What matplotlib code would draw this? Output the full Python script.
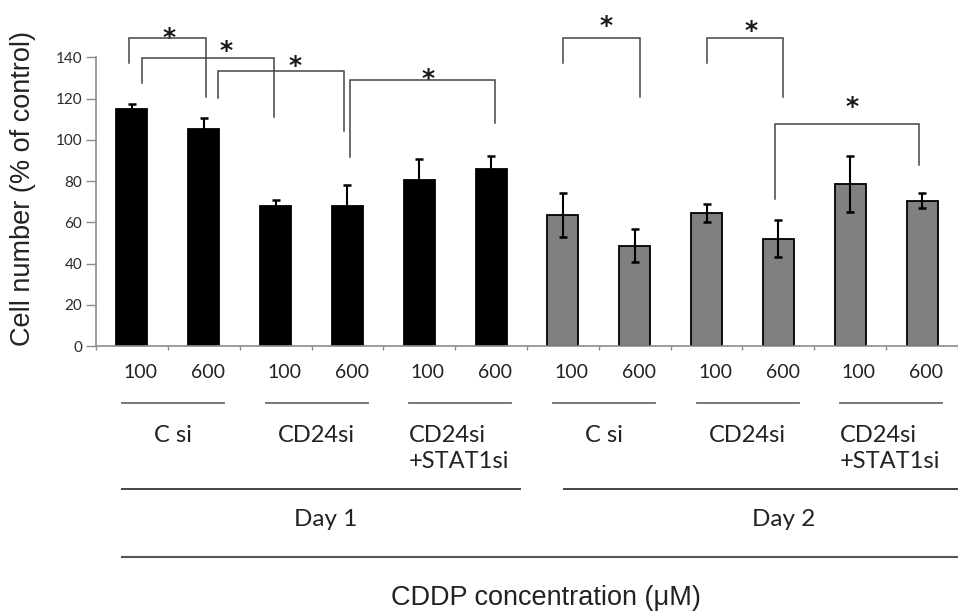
import matplotlib
matplotlib.use("Agg")
import matplotlib.pyplot as plt
import numpy as np
from matplotlib.transforms import blended_transform_factory

# values
MEANS = [115, 105, 68, 68, 80.5, 86, 63.5, 48.5, 64.5, 52, 78.5, 70.5]
ERRS = [2.5, 5.5, 3, 10, 10, 6, 10.5, 8, 4.5, 9, 13.5, 3.5]
DAY_OF_BAR = [1, 1, 1, 1, 1, 1, 2, 2, 2, 2, 2, 2]
DOSES = ["100", "600"]
GROUPS = ["C si", "CD24si", "CD24si\n+STAT1si"]
DAYS = ["Day 1", "Day 2"]
Y_TICKS = [0, 20, 40, 60, 80, 100, 120, 140]
X_TITLE = "CDDP concentration (\u03bcM)"
Y_TITLE = "Cell number (% of control)"

# significance brackets: left x, right x, top, left leg end, right leg end
BR_X0 = [-0.04, 0.14, 1.20, 3.04, 6.00, 8.00, 8.95]
BR_X1 = [1.03, 1.98, 2.95, 5.06, 7.07, 9.07, 10.96]
BR_TOP = [149.2, 139.8, 133.4, 128.9, 149.5, 149.5, 107.8]
BR_LEFT = [137.4, 127.7, 120.4, 91.8, 137.4, 137.4, 71.1]
BR_RIGHT = [120.9, 110.9, 104.3, 108.3, 120.9, 120.9, 87.8]
STAR_X = [0.52, 1.31, 2.27, 4.12, 6.60, 8.62, 10.02]
STAR_Y = [153.6, 147.0, 140.0, 133.4, 159.4, 157.0, 120.0]

W, H = 958, 614
fig = plt.figure(figsize=(W / 100, H / 100), dpi=100)
ax = fig.add_axes([96 / W, 1 - 346 / H, 862 / W, (346 - 57.3) / H])

x = np.arange(len(MEANS))
colors = ["black" if d == 1 else "#808080" for d in DAY_OF_BAR]
ax.bar(x, MEANS, width=0.43, color=colors, edgecolor="black", linewidth=1.3, zorder=2)
ax.errorbar(x, MEANS, yerr=ERRS, fmt="none", ecolor="black", elinewidth=1.5,
            capsize=3.2, capthick=1.8, zorder=3)

ax.set_xlim(-0.5, len(MEANS) - 0.5)
ax.set_ylim(0, 140)
ax.set_yticks(Y_TICKS)
ax.set_xticks(np.arange(-0.5, len(MEANS), 1.0))
ax.set_xticklabels([])
for side in ("top", "right"):
    ax.spines[side].set_visible(False)
for side in ("left", "bottom"):
    ax.spines[side].set_color("#8c8c8c")
    ax.spines[side].set_linewidth(1.2)
ax.tick_params(axis="y", direction="out", length=7, width=1.0, color="#8c8c8c",
               pad=3, labelsize=11, labelcolor="#2a2a2a")
ax.tick_params(axis="x", direction="out", length=3, width=1.0, color="#8c8c8c")
for lab in ax.get_yticklabels():
    lab.set_fontfamily("Lato")

# brackets and stars
for x0, x1, top, yl, yr in zip(BR_X0, BR_X1, BR_TOP, BR_LEFT, BR_RIGHT):
    ax.plot([x0, x0, x1, x1], [yl, top, top, yr], color="#444444", lw=1.1,
            clip_on=False, zorder=4, solid_joinstyle="miter")
for sx, sy in zip(STAR_X, STAR_Y):
    ax.annotate("*", (sx, sy), xytext=(0, -6), textcoords="offset points",
                ha="center", va="center", fontsize=18, fontweight="bold",
                family="DejaVu Sans", color="#1a1a1a", annotation_clip=False)

# table-like labels beneath the axis
tr = blended_transform_factory(ax.transData, fig.transFigure)


def fy(px):
    return 1 - px / H


txt = dict(transform=tr, family="Lato", color="#222222")
line = dict(transform=tr, clip_on=False)
n_groups = len(MEANS) // 2
for g in range(n_groups):
    base = 2 * g
    for k, dose in enumerate(DOSES):
        ax.text(base + 0.12 + 0.94 * k, fy(372), dose, ha="center", va="center",
                fontsize=14, **txt)
    ax.plot([base - 0.14, base + 1.28], [fy(402.5), fy(402.5)], color="#6a6a6a",
            lw=1.3, **line)
    name = GROUPS[g % len(GROUPS)]
    if "\n" in name:
        ax.text(base - 0.14, fy(425), name, ha="left", va="top", fontsize=17,
                linespacing=1.3, **txt)
    else:
        ax.text(base + 0.57, fy(436), name, ha="center", va="center",
                fontsize=17, **txt)

day_x0 = [-0.14, 6.01]
day_x1 = [5.40, 11.6]
day_cx = [2.70, 9.07]
for d, day in enumerate(DAYS):
    ax.plot([day_x0[d], day_x1[d]], [fy(489), fy(489)], color="#444444", lw=1.4, **line)
    ax.text(day_cx[d], fy(519), day, ha="center", va="center", fontsize=17.5, **txt)

ax.plot([-0.14, 11.6], [fy(556.5), fy(556.5)], color="#555555", lw=1.5, **line)
fig.text(546 / W, fy(598), X_TITLE, ha="center", va="center", fontsize=19.5,
         family="Liberation Sans", color="#222222")
fig.text(23 / W, fy(189), Y_TITLE, ha="center", va="center", rotation=90,
         fontsize=19.5, family="Liberation Sans", color="#222222")

fig.savefig("out.png", dpi=100, facecolor="white")
